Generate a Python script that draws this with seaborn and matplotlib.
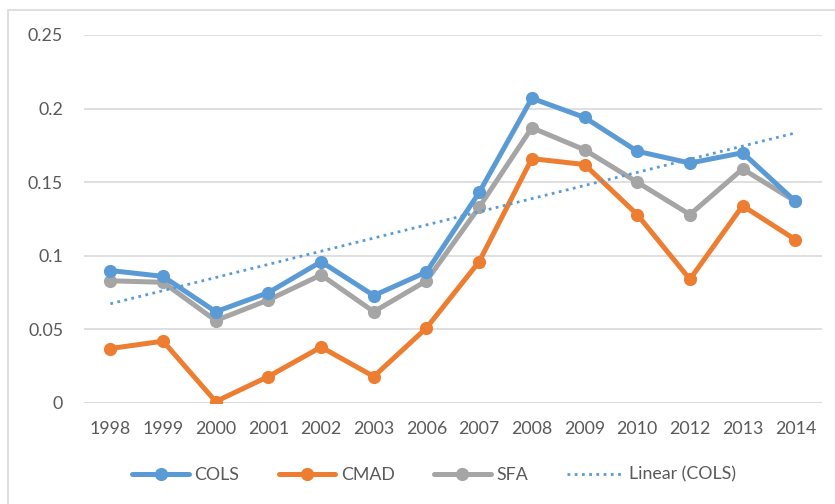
import numpy as np
import pandas as pd
import seaborn as sns
import matplotlib.pyplot as plt
from matplotlib.patches import Rectangle
from matplotlib.lines import Line2D

# values
years = ["1998", "1999", "2000", "2001", "2002", "2003", "2006",
         "2007", "2008", "2009", "2010", "2012", "2013", "2014"]
cols = [0.090, 0.086, 0.062, 0.075, 0.096, 0.073, 0.089,
        0.143, 0.207, 0.194, 0.171, 0.163, 0.170, 0.137]
cmad = [0.037, 0.042, 0.001, 0.018, 0.038, 0.018, 0.051,
        0.096, 0.166, 0.162, 0.128, 0.084, 0.134, 0.111]
sfa = [0.083, 0.082, 0.056, 0.070, 0.087, 0.062, 0.083,
       0.133, 0.187, 0.172, 0.150, 0.128, 0.159, 0.137]
yticks = [0, 0.05, 0.1, 0.15, 0.2, 0.25]
ytick_labels = ["0", "0.05", "0.1", "0.15", "0.2", "0.25"]

series = {"COLS": cols, "CMAD": cmad, "SFA": sfa}
colors = {"COLS": "#5B9BD5", "CMAD": "#ED7D31", "SFA": "#A5A5A5"}

sns.set_theme(style="white")
plt.rcParams["font.family"] = ["Lato", "DejaVu Sans"]

fig = plt.figure(figsize=(8.35, 5.04), dpi=100)
ax = fig.add_axes([0.1006, 0.2004, 0.8834, 0.7302])

# chart area border
fig.patches.append(Rectangle((8 / 835, -0.05), 1.0, 1 - 10 / 504 + 0.05,
                             transform=fig.transFigure, fill=False,
                             edgecolor="#D9D9D9", lw=1.2, zorder=0))

idx = np.arange(len(years))
for name in ["SFA", "CMAD", "COLS"]:
    df = pd.DataFrame({"x": idx, "y": series[name]})
    sns.lineplot(data=df, x="x", y="y", ax=ax, color=colors[name], lw=3.6,
                 marker="o", markersize=9.5, markeredgewidth=0, sort=False,
                 zorder=3 if name == "COLS" else 2)

sns.regplot(x=idx, y=np.array(cols), ax=ax, scatter=False, ci=None,
            color="#5B9BD5", truncate=True,
            line_kws={"lw": 2, "linestyle": (0, (1, 1.6)), "zorder": 4})

ax.set_xlim(-0.5, len(years) - 0.5)
ax.set_ylim(0, 0.25)
ax.set_xticks(idx)
ax.set_xticklabels(years)
ax.set_yticks(yticks)
ax.set_yticklabels(ytick_labels)
ax.tick_params(axis="both", length=0, labelsize=12.8, colors="#595959")
ax.tick_params(axis="x", pad=13)
ax.tick_params(axis="y", pad=15)
ax.set_xlabel("")
ax.set_ylabel("")
ax.grid(axis="y", color="#D9D9D9", lw=1.2)
ax.set_axisbelow(True)
for s in ax.spines.values():
    s.set_visible(False)
ax.axhline(0, color="#D9D9D9", lw=1.2, zorder=1)

handles = [Line2D([], [], color=colors[n], lw=3.6, marker="o", markersize=9.5,
                  markeredgewidth=0) for n in ["COLS", "CMAD", "SFA"]]
handles.append(Line2D([], [], color="#5B9BD5", lw=2, linestyle=(0, (1, 1.6))))
fig.legend(handles, ["COLS", "CMAD", "SFA", "Linear (COLS)"], loc="center",
           bbox_to_anchor=(0.52, 0.058), ncol=4, frameon=False, fontsize=12.8,
           handlelength=3.2, handletextpad=0.3, columnspacing=2.2,
           labelcolor="#595959")

fig.savefig("out.png", dpi=100)
